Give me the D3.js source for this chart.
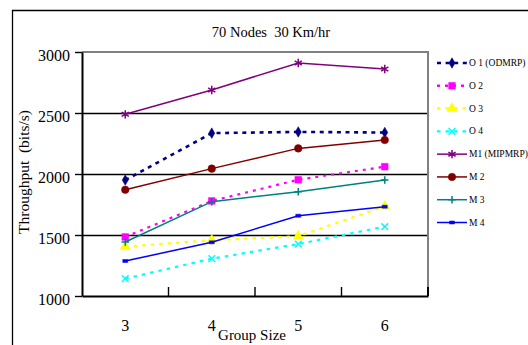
<!DOCTYPE html>
<html lang="en">
<head>
<meta charset="utf-8">
<title>70 Nodes 30 Km/hr</title>
<script src="https://cdn.jsdelivr.net/npm/d3@7"></script>
<style>
  body { margin: 0; background: #fff; }
  svg text { font-family: "Liberation Serif", "Times New Roman", serif; fill: #000; white-space: pre; }
</style>
</head>
<body>
<script>
// data
var groups = [3, 4, 5, 6];
var yTicks = [1000, 1500, 2000, 2500, 3000];
var gridVals = [1500, 2000, 2500];

var seriesNames = ["O 1 (ODMRP)", "O 2", "O 3", "O 4", "M1 (MIPMRP)", "M 2", "M 3", "M 4"];
var o1 = [1950, 2335, 2345, 2340];
var o2 = [1484, 1779, 1953, 2060];
var o3 = [1404, 1458, 1490, 1735];
var o4 = [1142, 1306, 1426, 1568];
var m1 = [2489, 2689, 2910, 2861];
var m2 = [1871, 2044, 2210, 2279];
var m3 = [1443, 1773, 1855, 1951];
var m4 = [1287, 1440, 1658, 1732];

var w = 528, h = 345;
var serif = "Liberation Serif";

// custom marker shapes
var cross6 = {
  draw: function(ctx, size) {
    var r = Math.sqrt(size) / 2;
    var a = r * 0.866, b = r * 0.5;
    ctx.moveTo(0, -r); ctx.lineTo(0, r);
    ctx.moveTo(-a, -b); ctx.lineTo(a, b);
    ctx.moveTo(-a, b); ctx.lineTo(a, -b);
  }
};
var xMark = {
  draw: function(ctx, size) {
    var r = Math.sqrt(size) / 2;
    ctx.moveTo(-r, -r); ctx.lineTo(r, r);
    ctx.moveTo(-r, r); ctx.lineTo(r, -r);
  }
};
var plusMark = {
  draw: function(ctx, size) {
    var r = Math.sqrt(size) / 2;
    ctx.moveTo(0, -r); ctx.lineTo(0, r);
    ctx.moveTo(-r, 0); ctx.lineTo(r, 0);
  }
};
var dashMark = {
  draw: function(ctx, size) {
    ctx.rect(-2.5, -1.5, 5, 3);
  }
};

var series = [
  { name: seriesNames[0], values: o1, color: "#000080", width: 2.6, dash: "4,4.6", type: d3.symbolDiamond, size: 32, fill: true },
  { name: seriesNames[1], values: o2, color: "#ff00ff", width: 2.2, dash: "3,5", type: d3.symbolSquare, size: 45, fill: true },
  { name: seriesNames[2], values: o3, color: "#ffff00", width: 2.2, dash: "3.5,5", type: d3.symbolTriangle, size: 45, fill: true },
  { name: seriesNames[3], values: o4, color: "#00ffff", width: 2.2, dash: "3.5,5", type: xMark, size: 45, fill: false },
  { name: seriesNames[4], values: m1, color: "#800080", width: 1.5, dash: null, type: cross6, size: 70, fill: false },
  { name: seriesNames[5], values: m2, color: "#800000", width: 1.5, dash: null, type: d3.symbolCircle, size: 45, fill: true },
  { name: seriesNames[6], values: m3, color: "#008080", width: 1.5, dash: null, type: plusMark, size: 55, fill: false },
  { name: seriesNames[7], values: m4, color: "#0000ff", width: 1.5, dash: null, type: dashMark, size: 10, fill: true }
];

var svg = d3.select("body").append("svg")
  .attr("width", w)
  .attr("height", h)
  .attr("font-family", serif);

// outer frame (runs off the right and bottom edge)
svg.append("path")
  .attr("d", "M12.5," + (h + 5) + "V10.5H" + (w + 5))
  .attr("fill", "none")
  .attr("stroke", "#000")
  .attr("stroke-width", 1.3);

var x = d3.scaleBand()
  .domain(groups)
  .range([82, 428])
  .paddingInner(0)
  .paddingOuter(0);

var y = d3.scaleLinear()
  .domain([1000, 3000])
  .range([296, 52]);

// grid lines
svg.selectAll(".grid")
  .data(gridVals)
  .enter()
  .append("line")
  .attr("x1", x.range()[0])
  .attr("x2", x.range()[1])
  .attr("y1", function(d) { return y(d) + 0.5; })
  .attr("y2", function(d) { return y(d) + 0.5; })
  .attr("stroke", "#000")
  .attr("stroke-width", 1.4);

// plot border: grey top/right, black left/bottom
svg.append("path")
  .attr("d", "M" + x.range()[0] + "," + y(3000) + "H" + x.range()[1] + "V" + y(1000))
  .attr("fill", "none")
  .attr("stroke", "#808080")
  .attr("stroke-width", 2);

// y axis
var yAxis = svg.append("g")
  .attr("transform", "translate(" + x.range()[0] + ",0)")
  .call(d3.axisLeft(y).tickValues(yTicks).tickFormat(d3.format("d"))
    .tickSize(7).tickPadding(5).tickSizeOuter(0))
  .attr("font-family", serif)
  .attr("font-size", 16);
yAxis.select(".domain").attr("stroke", "#000").attr("stroke-width", 2);
yAxis.selectAll(".tick line").attr("stroke", "#000").attr("stroke-width", 1.4);
yAxis.selectAll(".tick text").attr("dy", "0.5em");

// x axis labels
var xAxis = svg.append("g")
  .attr("transform", "translate(0," + y(1000) + ")")
  .call(d3.axisBottom(x).tickSize(0).tickPadding(24).tickSizeOuter(0))
  .attr("font-family", serif)
  .attr("font-size", 16);
xAxis.select(".domain").attr("stroke", "#000").attr("stroke-width", 2);

// x tick marks between groups, pointing up into the plot
svg.selectAll(".xtick")
  .data(groups.slice(0, groups.length - 1))
  .enter()
  .append("line")
  .attr("x1", function(d) { return x(d) + x.bandwidth(); })
  .attr("x2", function(d) { return x(d) + x.bandwidth(); })
  .attr("y1", y(1000))
  .attr("y2", y(1000) - 9)
  .attr("stroke", "#000")
  .attr("stroke-width", 1.4);

// right border bottom tick
svg.append("line")
  .attr("x1", x.range()[1]).attr("x2", x.range()[1])
  .attr("y1", y(1000)).attr("y2", y(1000) - 9)
  .attr("stroke", "#000").attr("stroke-width", 2);

// lines
var line = d3.line()
  .x(function(d, i) { return x(groups[i]) + x.bandwidth() / 2; })
  .y(function(d) { return y(d); });

var sym = d3.symbol();

function drawMarker(g, s, cx, cy) {
  g.append("path")
    .attr("d", sym.type(s.type).size(s.size)())
    .attr("transform", "translate(" + cx + "," + cy + ")")
    .attr("fill", s.fill ? s.color : "none")
    .attr("stroke", s.color)
    .attr("stroke-width", s.fill ? 0.5 : 1.5);
}

series.forEach(function(s) {
  var g = svg.append("g");
  g.append("path")
    .datum(s.values)
    .attr("d", line)
    .attr("fill", "none")
    .attr("stroke", s.color)
    .attr("stroke-width", s.width)
    .attr("stroke-dasharray", s.dash);
  s.values.forEach(function(v, i) {
    drawMarker(g, s, x(groups[i]) + x.bandwidth() / 2, y(v));
  });
});

// legend
var legend = svg.append("g");
var legendY = d3.scalePoint()
  .domain(seriesNames)
  .range([63, 222.5]);

series.forEach(function(s) {
  var ly = legendY(s.name);
  legend.append("line")
    .attr("x1", 437).attr("x2", 467)
    .attr("y1", ly).attr("y2", ly)
    .attr("stroke", s.color)
    .attr("stroke-width", s.dash ? 2.4 : 1.5)
    .attr("stroke-dasharray", s.dash);
  drawMarker(legend, s, 452, ly);
  legend.append("text")
    .attr("x", 469)
    .attr("y", ly)
    .attr("dy", "0.33em")
    .attr("font-size", 9.5)
    .text(s.name);
});

// title and axis titles
svg.append("text")
  .attr("x", 271)
  .attr("y", 37)
  .attr("text-anchor", "middle")
  .attr("font-size", 14.5)
  .text("70 Nodes  30 Km/hr");

svg.append("text")
  .attr("x", 252)
  .attr("y", 340)
  .attr("text-anchor", "middle")
  .attr("font-size", 15)
  .text("Group Size");

svg.append("text")
  .attr("transform", "translate(29,172) rotate(-90)")
  .attr("text-anchor", "middle")
  .attr("font-size", 15.5)
  .text("Throughput  (bits/s)");
</script>
</body>
</html>
